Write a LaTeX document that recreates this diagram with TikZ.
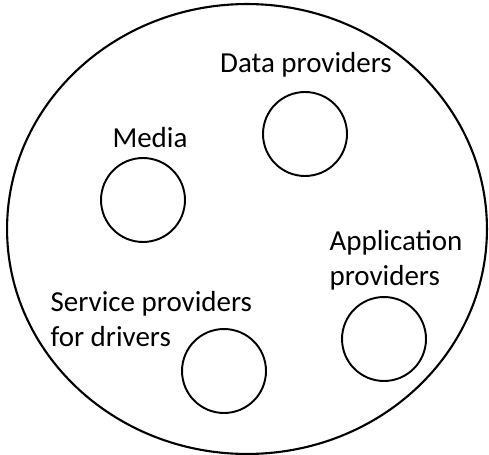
\documentclass[tikz,border=0pt]{standalone}
\usepackage{fontspec}
\setmainfont{Carlito}
\usepackage{tikz}
\usetikzlibrary{shapes, shapes.geometric, positioning}
\tikzset{
    group/.style ={circle, draw, line width=1.1pt, minimum size=1.68cm, inner sep=0pt},
    market/.style ={ellipse, draw, line width=1.2pt, minimum width=9.6cm, minimum height=9cm, inner sep=0pt},
    lbl/.style = {inner sep=0pt, align=left, font=\fontsize{16.5}{20}\selectfont}
    }

\begin{document}
\begin{tikzpicture}[
      x = 0.02cm, % one pixel of the reference
      y = -0.02cm, % y runs downwards
      semithick % line style
    ]
    \useasboundingbox (0,0) rectangle (489,455);

    \node[market] (world) at (247,229) {};

    \node[group] (data) at (305,134) {};
    \node[group] (media) at (143,200) {};
    \node[group] (service) at (224,371) {};
    \node[group] (app) at (384,339) {};

    \node[lbl, anchor=base] (datalbl) at (306,73) {Data providers};
    \node[lbl, anchor=base] (medialbl) at (150,148) {Media};
    \node[lbl, anchor=north west] (applbl) at (329,230) {Application\\providers};
    \node[lbl, anchor=north west] (servicelbl) at (50,291) {Service providers\\for drivers};
\end{tikzpicture}
\end{document}
